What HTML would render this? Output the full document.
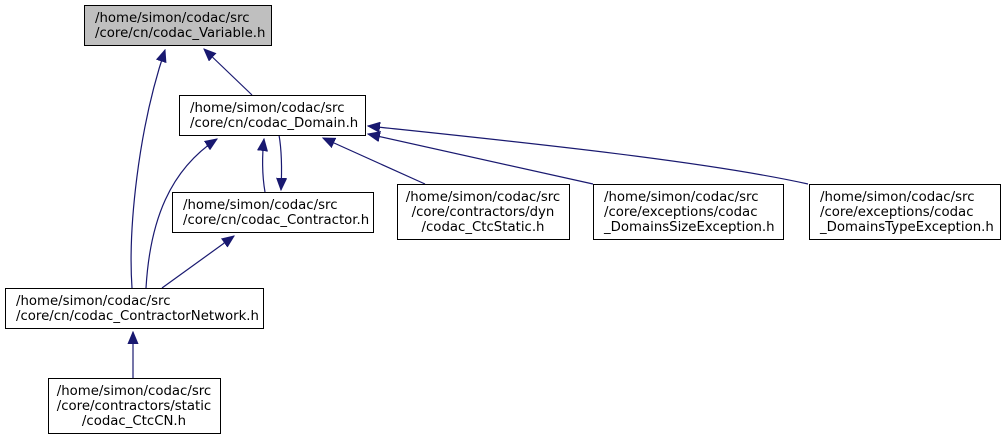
<!DOCTYPE html>
<html><head><meta charset="utf-8"><style>
body{margin:0;background:#fff;width:1007px;height:439px;overflow:hidden}
svg text{font-family:"DejaVu Sans","Liberation Sans",sans-serif;font-size:13.3px;fill:#000}
</style></head><body>
<svg width="1007" height="439" viewBox="0 0 1007 439" xmlns="http://www.w3.org/2000/svg">
<defs>
<marker id="a" markerWidth="13" markerHeight="11" refX="12" refY="5.5" orient="auto" markerUnits="userSpaceOnUse">
<path d="M0,0.5 L12,5.5 L0,10.5 Z" fill="#191970" stroke="#191970"/>
</marker>
</defs>
<g fill="none" stroke="#191970" stroke-width="1.2">
<path d="M252,95 L204,49" marker-end="url(#a)"/>
<path d="M132,288 C128,230 138,130 165,50" marker-end="url(#a)"/>
<path d="M146,288 C150,220 170,170 217,139" marker-end="url(#a)"/>
<path d="M265,192 C262,175 262,155 264,139" marker-end="url(#a)"/>
<path d="M279,135 C282,152 282,170 281,190" marker-end="url(#a)"/>
<path d="M162,288 L234,236" marker-end="url(#a)"/>
<path d="M425,184 L323,138" marker-end="url(#a)"/>
<path d="M593,184 L368,134" marker-end="url(#a)"/>
<path d="M808,184 C700,160 500,140 368,126" marker-end="url(#a)"/>
<path d="M133,378 L133,332" marker-end="url(#a)"/>
</g>
<g stroke="#000" stroke-width="1" fill="#fff">
<rect x="84.5" y="5.5" width="187" height="40" fill="#bfbfbf"/>
<rect x="179.5" y="95.5" width="186" height="40"/>
<rect x="172.5" y="192.5" width="201" height="40"/>
<rect x="397.5" y="184.5" width="172" height="55"/>
<rect x="593.5" y="184.5" width="190" height="55"/>
<rect x="809.5" y="184.5" width="191" height="55"/>
<rect x="5.5" y="288.5" width="258" height="40"/>
<rect x="48.5" y="378.5" width="172" height="55"/>
</g>
<text x="95" y="22">/home/simon/codac/src</text>
<text x="95" y="37">/core/cn/codac_Variable.h</text>
<text x="190" y="112">/home/simon/codac/src</text>
<text x="190" y="127">/core/cn/codac_Domain.h</text>
<text x="183" y="209">/home/simon/codac/src</text>
<text x="183" y="224">/core/cn/codac_Contractor.h</text>
<g text-anchor="middle">
<text x="483" y="201">/home/simon/codac/src</text>
<text x="483" y="216">/core/contractors/dyn</text>
<text x="483" y="231">/codac_CtcStatic.h</text>
<text x="134" y="395">/home/simon/codac/src</text>
<text x="134" y="410">/core/contractors/static</text>
<text x="134" y="425">/codac_CtcCN.h</text>
</g>
<text x="604" y="201">/home/simon/codac/src</text>
<text x="604" y="216">/core/exceptions/codac</text>
<text x="604" y="231">_DomainsSizeException.h</text>
<text x="820" y="201">/home/simon/codac/src</text>
<text x="820" y="216">/core/exceptions/codac</text>
<text x="820" y="231">_DomainsTypeException.h</text>
<text x="16" y="305">/home/simon/codac/src</text>
<text x="16" y="320">/core/cn/codac_ContractorNetwork.h</text>
</svg>
</body></html>
